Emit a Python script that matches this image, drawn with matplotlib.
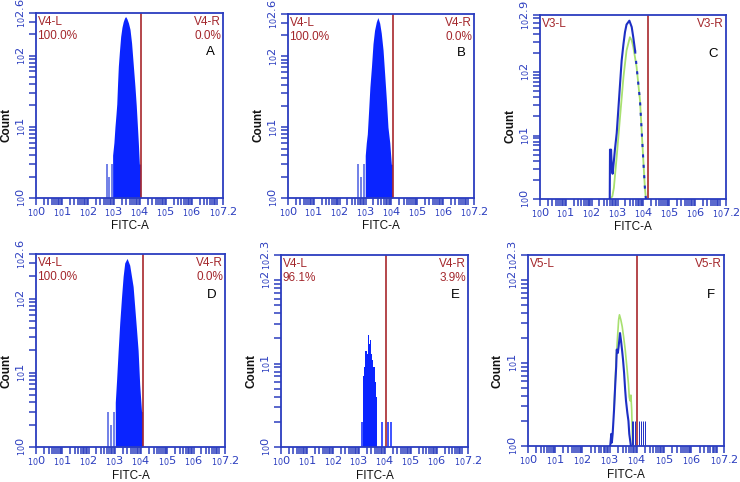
#!/usr/bin/env python3
"""Six FITC-A flow cytometry histograms (panels A-F) with V-gates."""

import matplotlib

matplotlib.use("Agg")
import matplotlib.pyplot as plt
import numpy as np
from matplotlib.ticker import FixedLocator, LogLocator, NullFormatter

plt.rcParams["font.family"] = ["Liberation Sans", "DejaVu Sans"]

AXIS_BLUE = "#2b3dbf"
FILL_BLUE = "#0a24ff"
LINE_BLUE = "#1d2fc4"
GREEN = "#a8e070"
GATE_RED = "#a8282c"
TEXT_RED = "#a3262b"

# ---- data: x in log10(FITC-A) decades, counts ----
a_exp = [2.95, 3.00, 3.04, 3.08, 3.11, 3.14, 3.17, 3.21, 3.26, 3.31, 3.36, 3.41,
         3.45, 3.50, 3.56, 3.62, 3.68, 3.74, 3.81, 3.86, 3.90, 3.94, 3.98, 4.03]
a_count = [4, 6, 10, 15, 21, 40, 71, 112, 186, 251, 302, 339,
           355, 331, 288, 234, 151, 79, 37, 20, 11, 6, 3, 3]
a_spike_exp = [2.72, 2.82, 2.91]
a_spike_count = [3, 2, 3]

b_exp = [2.99, 3.03, 3.07, 3.12, 3.17, 3.23, 3.29, 3.35, 3.42, 3.48,
         3.55, 3.61, 3.68, 3.74, 3.81, 3.87, 3.94, 4.00, 4.04]
b_count = [4, 6, 8, 17, 37, 71, 151, 234, 309, 355,
           295, 214, 123, 58, 24, 10, 6, 3, 3]
b_spike_exp = [2.71, 2.81, 2.93]
b_spike_count = [3, 2, 3]

c_blue_exp = [2.70, 2.71, 2.73, 2.75, 2.78, 2.81, 2.86, 2.90, 2.97, 3.03, 3.10, 3.16, 3.23,
              3.29, 3.35, 3.46, 3.55, 3.61, 3.68, 3.74, 3.87, 3.94, 4.00, 4.06, 4.10]
c_blue_count = [1, 6, 3, 6, 3, 2.5, 4, 6, 11, 25, 66, 151, 275,
                427, 562, 646, 513, 355, 219, 120, 36, 11, 4, 1.5, 1]
c_green_exp = [2.71, 2.80, 2.86, 2.97, 3.10, 3.23, 3.35, 3.48, 3.55, 3.61,
               3.74, 3.87, 3.94, 4.00, 4.06, 4.10]
c_green_count = [1, 1.1, 1.5, 4.7, 20, 83, 219, 355, 316, 251,
                 120, 36, 11, 4, 1.5, 1]

d_exp = [3.02, 3.07, 3.13, 3.19, 3.26, 3.32, 3.38, 3.47, 3.57, 3.70,
         3.83, 3.89, 3.95, 4.02, 4.06]
d_count = [4, 8, 20, 47, 107, 200, 302, 347, 282, 145, 38, 20, 7, 3, 3]
d_spike_exp = [2.75, 2.85, 2.97]
d_spike_count = [3, 2, 3]

e_exp = [3.17, 3.23, 3.27, 3.32, 3.39, 3.42, 3.46, 3.50, 3.54, 3.58, 3.62, 3.66, 3.71]
e_count = [7, 9, 14, 13, 22, 17, 19, 13, 11, 9, 6, 4, 3]
e_spike_exp = [3.11, 3.88, 4.13, 4.25]
e_spike_count = [2, 2, 2, 2]

f_blue_exp = [3.02, 3.06, 3.08, 3.11, 3.16, 3.20, 3.24, 3.26, 3.30, 3.33, 3.38,
              3.42, 3.46, 3.49, 3.53, 3.57, 3.60, 3.65, 3.69, 3.72, 3.78]
f_blue_count = [1, 1.4, 1.1, 1.4, 2.7, 5.1, 9.1, 14.5, 13.2, 15.8, 22.9,
                18.2, 13.8, 11, 7.6, 4.7, 3.5, 2.5, 2, 1.4, 1]
f_green_exp = [3.16, 3.20, 3.24, 3.29, 3.33, 3.36, 3.41, 3.46, 3.51, 3.57,
               3.63, 3.69, 3.72, 3.75, 3.78, 3.81, 3.84]
f_green_count = [2.7, 5.6, 11.2, 20.9, 33.1, 38, 33.1, 27.5, 20.9, 14.5,
                 9.1, 5.6, 3.9, 3.5, 4.1, 2.7, 1]
f_spike_exp = [3.81, 3.87, 3.93, 4.09, 4.15, 4.22, 4.28]
f_spike_count = [2, 2, 2, 2, 2, 2, 2]

x_label_exps = [0, 1, 2, 3, 4, 5, 6, 7.2]
y_top_exp = {"A": 2.6, "B": 2.6, "C": 2.9, "D": 2.6, "E": 2.3, "F": 2.3}
gate_exp = {"A": 4.05, "B": 4.06, "C": 4.17, "D": 4.06, "E": 4.04, "F": 4.0}
gate_names = {"A": "V4", "B": "V4", "C": "V3", "D": "V4", "E": "V4", "F": "V5"}
gate_pct = {"A": ("100.0%", "0.0%"), "B": ("100.0%", "0.0%"), "D": ("100.0%", "0.0%"),
            "E": ("96.1%", "3.9%")}

W, H = 740, 482
# (left, top, right, bottom) in pixels
boxes = {
    "A": (36, 13, 223, 198),
    "B": (288, 14, 474, 198),
    "C": (540, 15, 726, 199),
    "D": (36, 254, 225, 447),
    "E": (281, 255, 468, 447),
    "F": (528, 255, 724, 446),
}


def _lbl(e):
    return r"${}_{10}\mathit{%s}$" % e


def setup_axis(ax, ytop):
    ax.set_xscale("log")
    ax.set_yscale("log")
    ax.set_xlim(1, 10 ** x_label_exps[-1])
    ax.set_ylim(1, 10 ** ytop)
    ax.xaxis.set_major_locator(FixedLocator([10.0 ** e for e in x_label_exps]))
    ax.set_xticklabels([_lbl(e) for e in x_label_exps])
    y_exps = list(range(int(ytop) + 1)) + [ytop]
    ax.yaxis.set_major_locator(FixedLocator([10.0 ** e for e in y_exps]))
    ax.set_yticklabels([_lbl(e) for e in y_exps], rotation=90, va="center")
    for axis in (ax.xaxis, ax.yaxis):
        axis.set_minor_locator(LogLocator(base=10, subs=np.arange(2, 10), numticks=20))
        axis.set_minor_formatter(NullFormatter())
    ax.tick_params(which="both", direction="out", length=5, width=1.1,
                   color=AXIS_BLUE, labelcolor=AXIS_BLUE, labelsize=8.2, pad=0.5)
    for s in ax.spines.values():
        s.set_color(AXIS_BLUE)
        s.set_linewidth(1.3)
    ax.set_xlabel("FITC-A", fontsize=8.5, color="#111111")
    ax.set_ylabel("Count", fontsize=8.5, fontweight="bold", color="#111111")
    ax.yaxis.label.set_va("center")
    ax.xaxis.set_label_coords(0.5, -0.12)
    ax.yaxis.set_label_coords(-0.158, 0.395)


def draw_gate(ax, key):
    ax.axvline(10 ** gate_exp[key], color=GATE_RED, lw=1.2)
    name = gate_names[key]
    ax.text(0.008, 0.985, f"{name}-L", transform=ax.transAxes, ha="left", va="top",
            color=TEXT_RED, fontsize=8.5)
    ax.text(0.99, 0.985, f"{name}-R", transform=ax.transAxes, ha="right", va="top",
            color=TEXT_RED, fontsize=8.5)
    if key in gate_pct:
        left, right = gate_pct[key]
        ax.text(0.008, 0.91, left, transform=ax.transAxes, ha="left", va="top",
                color=TEXT_RED, fontsize=8.5)
        ax.text(0.99, 0.91, right, transform=ax.transAxes, ha="right", va="top",
                color=TEXT_RED, fontsize=8.5)
    ax.text(0.955, 0.79, key, transform=ax.transAxes, ha="right", va="center",
            color="black", fontsize=9.5)


def filled(ax, exps, counts, step=None):
    x = np.power(10.0, exps)
    ax.fill_between(x, 1, counts, step=step, color=FILL_BLUE, lw=0, zorder=2)


def spikes(ax, exps, counts, color=FILL_BLUE, lw=1.1):
    ax.vlines(np.power(10.0, exps), 1, counts, color=color, lw=lw, zorder=2)


fig = plt.figure(figsize=(W / 100, H / 100), dpi=100)
axes = {}
for key, (l, t, r, b) in boxes.items():
    ax = fig.add_axes([l / W, 1 - b / H, (r - l) / W, (b - t) / H])
    setup_axis(ax, y_top_exp[key])
    axes[key] = ax

filled(axes["A"], a_exp, a_count)
spikes(axes["A"], a_spike_exp, a_spike_count, "#4a5ee0")
filled(axes["B"], b_exp, b_count)
spikes(axes["B"], b_spike_exp, b_spike_count, "#4a5ee0")
filled(axes["D"], d_exp, d_count)
spikes(axes["D"], d_spike_exp, d_spike_count, "#4a5ee0")
filled(axes["E"], e_exp, e_count, step="mid")
spikes(axes["E"], e_spike_exp, e_spike_count)

# C: blue outline solid on the rising side, dotted where it sits on the green fit
axc = axes["C"]
axc.plot(np.power(10.0, c_green_exp), c_green_count, color=GREEN, lw=1.3, zorder=2)
n_solid = c_blue_exp.index(3.68) + 1
axc.plot(np.power(10.0, c_blue_exp[:n_solid]), c_blue_count[:n_solid],
         color=LINE_BLUE, lw=1.5, zorder=3)
axc.plot(np.power(10.0, c_blue_exp[n_solid - 1:]), c_blue_count[n_solid - 1:],
         color=LINE_BLUE, lw=1.5, ls=(0, (1.5, 3.5)), zorder=3)

axf = axes["F"]
axf.plot(np.power(10.0, f_green_exp), f_green_count, color=GREEN, lw=1.2, zorder=2)
axf.plot(np.power(10.0, f_blue_exp), f_blue_count, color=LINE_BLUE, lw=1.5, zorder=3)
spikes(axf, f_spike_exp, f_spike_count, LINE_BLUE, lw=0.7)

for key, ax in axes.items():
    draw_gate(ax, key)

fig.savefig("out.png", dpi=100)
